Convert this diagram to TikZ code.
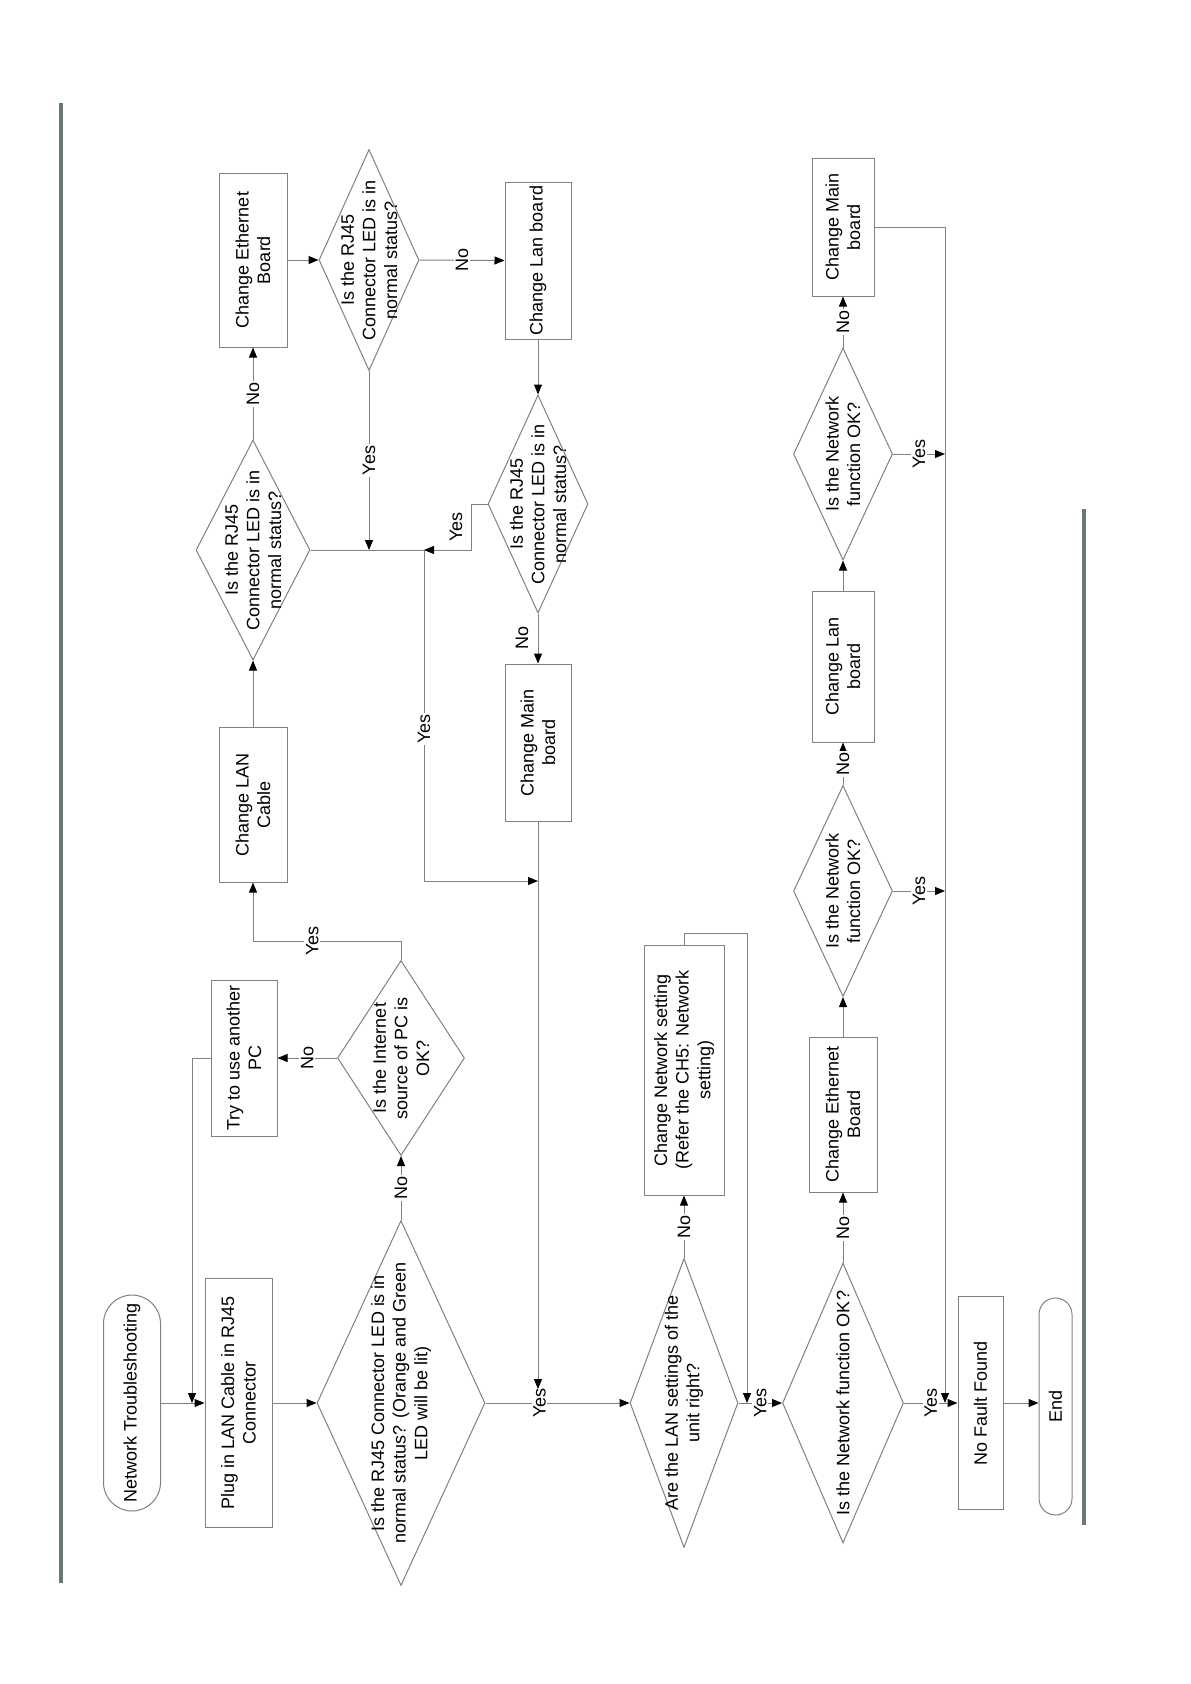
\documentclass[tikz,border=0pt]{standalone}
\usepackage{fontspec}
\setmainfont{Liberation Sans}
\usetikzlibrary{arrows.meta,shapes.geometric}
\definecolor{linegray}{RGB}{128,128,128}
\definecolor{bargray}{RGB}{104,120,120}
\newcommand\fsz{\fontsize{18}{21.6}\selectfont}
\tikzset{
  shp/.style={draw=linegray, line width=1pt, inner sep=0pt},
  box/.style={shp, rectangle},
  dia/.style={shp, diamond},
  term/.style={shp, rectangle, rounded corners=#1},
  txt/.style={rotate=90, align=center, inner sep=1pt, font=\fsz},
  lbl/.style={rotate=90, fill=white, inner sep=1.5pt, font=\fsz},
  plainlbl/.style={rotate=90, inner sep=1pt, font=\fsz},
  con/.style={draw=linegray, line width=1pt},
  arr/.style={con, -{Triangle[length=10pt,width=8pt,color=black]}},
}
\begin{document}
\begin{tikzpicture}[x=1pt,y=-1pt]
\useasboundingbox (0,0) rectangle (1191,1684);
% side bars
\fill[bargray] (59,103) rectangle (63,1583);
\fill[bargray] (1082,509) rectangle (1086,1525);

% shapes
\node[term=28.5pt, minimum width=57pt, minimum height=216pt] (t1) at (132,1403) {};
\node[box, minimum width=67pt, minimum height=249pt] (b2) at (238.5,1403) {};
\node[dia, minimum width=168pt, minimum height=365pt] (d3) at (401,1403) {};
\node[dia, minimum width=127pt, minimum height=195pt] (d4) at (401,1058) {};
\node[box, minimum width=66pt, minimum height=156pt] (b5) at (244,1058) {};
\node[box, minimum width=68pt, minimum height=155pt] (b6) at (253,804.5) {};
\node[dia, minimum width=114pt, minimum height=220pt] (d7) at (253,550) {};
\node[box, minimum width=68pt, minimum height=174pt] (b8) at (253,260) {};
\node[dia, minimum width=100pt, minimum height=221pt] (d9) at (369,260) {};
\node[box, minimum width=66pt, minimum height=157pt] (b10) at (538,260.5) {};
\node[dia, minimum width=100pt, minimum height=218pt] (d11) at (538,504) {};
\node[box, minimum width=66pt, minimum height=157pt] (b12) at (538,742.5) {};
\node[dia, minimum width=108pt, minimum height=289pt] (d13) at (684,1403) {};
\node[box, minimum width=80pt, minimum height=250pt] (b14) at (684,1070) {};
\node[dia, minimum width=121pt, minimum height=280pt] (d15) at (843,1403) {};
\node[box, minimum width=68pt, minimum height=155pt] (b16) at (843,1114.5) {};
\node[dia, minimum width=99pt, minimum height=211pt] (d17) at (843,891) {};
\node[box, minimum width=62pt, minimum height=151pt] (b18) at (843,666.5) {};
\node[dia, minimum width=99pt, minimum height=212pt] (d19) at (843,454) {};
\node[box, minimum width=62pt, minimum height=138pt] (b20) at (843,227) {};
\node[box, minimum width=45pt, minimum height=213pt] (b21) at (980.5,1403) {};
\node[term=16.5pt, minimum width=33pt, minimum height=217pt] (t22) at (1055.5,1406.5) {};

% texts
\node[txt] (t1t) at (t1) {Network Troubleshooting};
\node[txt] (b2t) at (b2) {Plug in LAN Cable in RJ45\\Connector};
\node[txt] (d3t) at (d3) {Is the RJ45 Connector LED is in\\normal status? (Orange and Green\\LED will be lit)};
\node[txt] (d4t) at (d4) {Is the Internet\\source of PC is\\OK?};
\node[txt] (b5t) at (b5) {Try to use another\\PC};
\node[txt] (b6t) at (b6) {Change LAN\\Cable};
\node[txt] (d7t) at (d7) {Is the RJ45\\Connector LED is in\\normal status?};
\node[txt] (b8t) at (b8) {Change Ethernet\\Board};
\node[txt] (d9t) at (d9) {Is the RJ45\\Connector LED is in\\normal status?};
\node[txt] (b10t) at (b10) {Change Lan board};
\node[txt] (d11t) at (d11) {Is the RJ45\\Connector LED is in\\normal status?};
\node[txt] (b12t) at (b12) {Change Main\\board};
\node[txt] (d13t) at (d13) {Are the LAN settings of the\\unit right?};
\node[txt] (b14t) at (b14) {Change Network setting\\(Refer the CH5: Network\\setting)};
\node[txt] (d15t) at (d15) {Is the Network function OK?};
\node[txt] (b16t) at (b16) {Change Ethernet\\Board};
\node[txt] (d17t) at (d17) {Is the Network\\function OK?};
\node[txt] (b18t) at (b18) {Change Lan\\board};
\node[txt] (d19t) at (d19) {Is the Network\\function OK?};
\node[txt] (b20t) at (b20) {Change Main\\board};
\node[txt] (b21t) at (b21) {No Fault Found};
\node[txt] (t22t) at (t22) {End};

% helper coordinates
\coordinate (c1) at (192,1403);
\coordinate (c2) at (401,941);
\coordinate (j1) at (424,550);
\coordinate (j2) at (424,881);
\coordinate (c3) at (471,504);
\coordinate (c4) at (538,1389);
\coordinate (c5) at (747,933);
\coordinate (c6) at (747,1403);
\coordinate (c7) at (945,227);
\coordinate (c8) at (945,1403);

% connectors
\draw[arr] (t1.east) -- (b2.west);
\draw[arr] (b5.west) -| (c1);
\draw[arr] (b2.east) -- (d3.west);
\draw[arr] (d3.north) -- node[lbl]{No} (d4.south);
\draw[arr] (d4.west) -- node[lbl]{No} (b5.east);
\draw[arr] (d4.north) -- (c2) -- node[lbl, pos=0.6]{Yes} (c2 -| b6.south) -- (b6.south);
\draw[arr] (b6.north) -- (d7.south);
\draw[arr] (d7.north) -- node[lbl]{No} (b8.south);
\draw[arr] (b8.east) -- (d9.west);
\draw[arr] (d9.east) -- node[lbl]{No} (b10.west);
\draw[arr] (b10.south) -- (d11.north);
\draw[arr] (d9.south) -- node[lbl]{Yes} (d9.south |- j1);
\draw[con] (d7.east) -- (j1);
\draw[arr] (j1) -- node[lbl, pos=0.54]{Yes} (j2) -- (j2 -| b12.south);
\draw[arr] (d11.west) -- (c3) |- (j1);
\node[plainlbl] (y11) at (456,527) {Yes};
\draw[arr] (d11.south) -- (b12.north);
\node[plainlbl] (n11) at (522,638) {No};
\draw[arr] (d3.east) -- node[lbl, pos=0.375]{Yes} (d13.west);
\draw[arr] (b12.south) -- (c4);
\draw[arr] (d13.north) -- node[lbl]{No} (b14.south);
\draw[arr] (b14.north) |- (c5) -- (c6);
\draw[arr] (d13.east) -- node[lbl]{Yes} (d15.west);
\draw[arr] (d15.north) -- node[lbl]{No} (b16.south);
\draw[arr] (b16.north) -- (d17.south);
\draw[arr] (d17.north) -- node[lbl]{No} (b18.south);
\draw[arr] (b18.north) -- (d19.south);
\draw[arr] (d19.north) -- node[lbl]{No} (b20.south);
\draw[arr] (b20.east) -- (c7) -- (c8);
\draw[arr] (d19.east) -- node[lbl]{Yes} (d19.east -| c7);
\draw[arr] (d17.east) -- node[lbl]{Yes} (d17.east -| c7);
\draw[arr] (d15.east) -- node[lbl]{Yes} (b21.west);
\draw[arr] (b21.east) -- (b21.east -| t22.west);
\end{tikzpicture}
\end{document}
